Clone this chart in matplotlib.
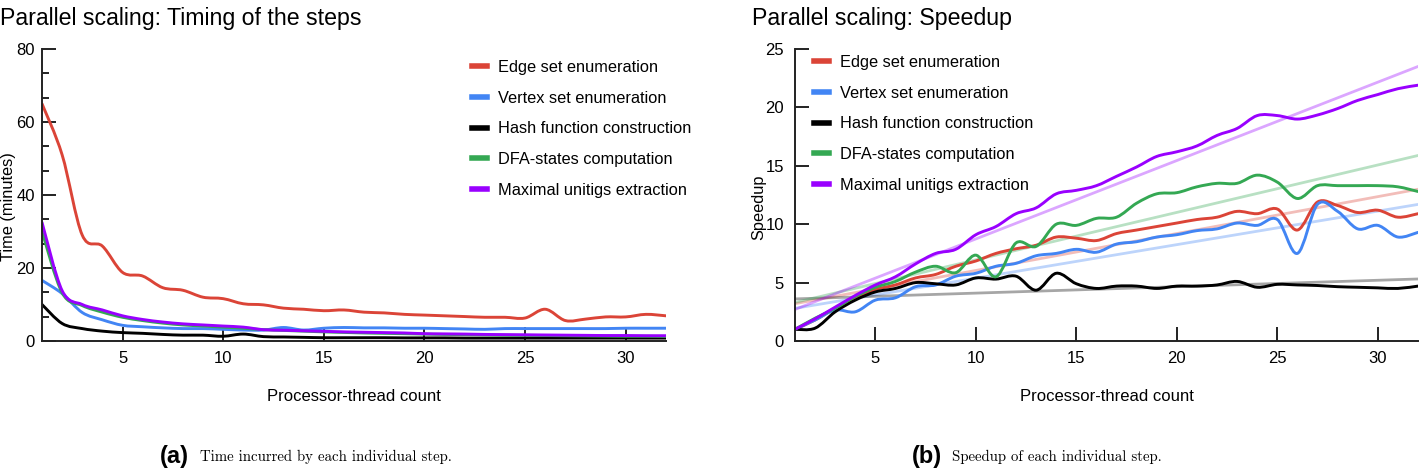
import numpy as np
import matplotlib
matplotlib.use("Agg")
import matplotlib.pyplot as plt
from matplotlib.lines import Line2D
from matplotlib.path import Path
from matplotlib.patches import PathPatch
from matplotlib.ticker import MultipleLocator

plt.rcParams['font.family'] = ['Liberation Sans', 'DejaVu Sans']

# ---------------- data ----------------
threads = np.arange(1, 33)
series_names = ["Edge set enumeration", "Vertex set enumeration", "Hash function construction",
                "DFA-states computation", "Maximal unitigs extraction"]
series_colors = ["#DB4437", "#4285F4", "#000000", "#34A853", "#9900FF"]

# Time in minutes (panel a)
edge_time = [65.0, 51.0, 29.0, 26.0, 18.8, 17.8, 14.6, 13.9, 12.0, 11.6, 10.2, 9.9, 9.0, 8.7, 8.3, 8.5,
             7.9, 7.7, 7.3, 7.1, 6.9, 6.7, 6.5, 6.5, 6.3, 8.7, 5.6, 6.0, 6.6, 6.6, 7.3, 6.9]
vertex_time = [16.6, 13.0, 7.8, 5.8, 4.3, 3.9, 3.6, 3.4, 3.4, 3.2, 3.0, 3.0, 3.7, 3.0, 3.5, 3.7,
               3.6, 3.6, 3.5, 3.5, 3.4, 3.3, 3.2, 3.4, 3.4, 3.4, 3.4, 3.4, 3.4, 3.5, 3.5, 3.5]
hash_time = [10.0, 4.8, 3.4, 2.7, 2.3, 2.1, 1.8, 1.6, 1.6, 1.3, 1.9, 1.2, 1.1, 1.0, 0.9, 0.9,
             0.9, 0.9, 0.85, 0.85, 0.85, 0.8, 0.8, 0.8, 0.8, 0.8, 0.8, 0.8, 0.8, 0.8, 0.8, 0.8]
dfa_time = [30.0, 13.2, 9.7, 7.9, 6.5, 5.6, 4.9, 4.4, 4.1, 3.8, 3.5, 3.1, 2.9, 2.7, 2.5, 2.35,
            2.2, 2.1, 2.0, 1.9, 1.8, 1.75, 1.7, 1.6, 1.55, 1.5, 1.45, 1.4, 1.35, 1.3, 1.3, 1.25]
unitig_time = [32.5, 13.8, 10.0, 8.5, 6.9, 5.9, 5.2, 4.7, 4.4, 4.1, 3.8, 3.1, 2.95, 2.8, 2.65, 2.5,
               2.4, 2.3, 2.2, 2.0, 1.95, 1.9, 1.8, 1.75, 1.7, 1.65, 1.6, 1.55, 1.5, 1.5, 1.45, 1.45]

# Speedup (panel b)
edge_sp = [1.0, 1.8, 2.8, 3.65, 4.4, 4.8, 5.4, 5.7, 6.4, 6.85, 7.5, 7.9, 8.2, 8.9, 8.8, 8.6,
           9.2, 9.5, 9.8, 10.1, 10.4, 10.6, 11.1, 10.9, 11.3, 9.5, 11.9, 11.6, 11.0, 11.2, 10.6, 10.9]
vertex_sp = [1.0, 1.8, 2.65, 2.5, 3.5, 3.7, 4.65, 4.8, 5.55, 5.8, 6.4, 6.65, 7.3, 7.5, 7.85, 7.6,
             8.3, 8.5, 8.9, 9.1, 9.45, 9.6, 10.1, 9.9, 10.4, 7.5, 11.7, 11.1, 9.6, 9.9, 8.9, 9.3]
hash_sp = [1.0, 1.1, 2.5, 3.5, 4.2, 4.5, 5.0, 4.9, 4.8, 5.4, 5.3, 5.55, 4.35, 5.8, 4.9, 4.5,
           4.7, 4.7, 4.5, 4.7, 4.7, 4.8, 5.1, 4.6, 4.85, 4.8, 4.75, 4.65, 4.6, 4.55, 4.5, 4.7]
dfa_sp = [1.0, 1.95, 2.8, 3.8, 4.6, 5.1, 5.9, 6.4, 5.85, 7.35, 5.5, 8.4, 8.1, 10.0, 9.9, 10.5,
          10.6, 11.8, 12.6, 12.7, 13.2, 13.5, 13.5, 14.2, 13.6, 12.2, 13.3, 13.3, 13.3, 13.3, 13.2, 12.8]
unitig_sp = [1.0, 1.9, 2.9, 3.9, 4.8, 5.5, 6.6, 7.5, 7.85, 9.1, 9.8, 10.9, 11.4, 12.6, 12.9, 13.3,
             14.1, 14.9, 15.8, 16.2, 16.7, 17.6, 18.2, 19.3, 19.3, 19.0, 19.35, 19.9, 20.6, 21.1, 21.6, 21.9]

# Linear trendlines of the speedup (slope, intercept)
trend_slope = [0.316, 0.287, 0.055, 0.406, 0.671]
trend_intercept = [2.88, 2.51, 3.55, 2.89, 2.03]

time_series = [edge_time, vertex_time, hash_time, dfa_time, unitig_time]
speed_series = [edge_sp, vertex_sp, hash_sp, dfa_sp, unitig_sp]

x_ticks = [5, 10, 15, 20, 25, 30]

# ---------------- helpers ----------------
def smooth_path(xs, ys):
    """Cubic Bezier path passing through every data point (Catmull-Rom style)."""
    P = np.column_stack([np.asarray(xs, float), np.asarray(ys, float)])
    n = len(P)
    verts = [P[0]]
    codes = [Path.MOVETO]
    for i in range(n - 1):
        p0 = P[i - 1] if i > 0 else P[i]
        p1 = P[i]
        p2 = P[i + 1]
        p3 = P[i + 2] if i + 2 < n else P[i + 1]
        c1 = p1 + (p2 - p0) / 6.0
        c2 = p2 - (p3 - p1) / 6.0
        verts += [c1, c2, p2]
        codes += [Path.CURVE4] * 3
    return Path(verts, codes)


def draw_smooth(ax, xs, ys, color, lw, zorder=2):
    patch = PathPatch(smooth_path(xs, ys), facecolor="none", edgecolor=color, lw=lw,
                      capstyle="round", joinstyle="round", zorder=zorder)
    ax.add_patch(patch)


# ---------------- figure ----------------
W, H = 1424, 468
fig = plt.figure(figsize=(W / 100, H / 100), dpi=100)

def fx(px):
    return px / W

def fy(py):
    return 1 - py / H

axL = fig.add_axes([fx(42), fy(341), fx(666) - fx(42), fy(49) - fy(341)])
axR = fig.add_axes([fx(795), fy(341), fx(1418) - fx(795), fy(49) - fy(341)])

LW = 2.1
for ax in (axL, axR):
    for s in ("top", "right"):
        ax.spines[s].set_visible(False)
    for s in ("left", "bottom"):
        ax.spines[s].set_linewidth(1.4)
        ax.spines[s].set_color("#222222")
    ax.set_xlim(1, 32)
    ax.set_xticks(x_ticks)
    ax.tick_params(axis="both", which="major", direction="in", length=10, width=1.4,
                   labelsize=12, colors="#222222", labelcolor="black")
    ax.tick_params(axis="x", pad=7)
    ax.set_xlabel("Processor-thread count", fontsize=12, labelpad=17)

# left panel
for vals, c in zip(time_series, series_colors):
    draw_smooth(axL, threads, vals, c, LW)
axL.set_ylim(0, 80)
axL.set_yticks([0, 20, 40, 60, 80])
axL.yaxis.set_minor_locator(MultipleLocator(20 / 3))
axL.tick_params(axis="y", which="minor", direction="in", length=5, width=1.4, colors="#222222")
axL.tick_params(axis="y", pad=5)
axL.set_ylabel("Time (minutes)", fontsize=11.8, va="center", ha="center")
axL.yaxis.set_label_coords(fx(9), fy(207), transform=fig.transFigure)

# right panel
for vals, c, m, b in zip(speed_series, series_colors, trend_slope, trend_intercept):
    axR.plot(threads, b + m * threads, color=c, lw=2.0, alpha=0.35, zorder=1)
for vals, c in zip(speed_series, series_colors):
    draw_smooth(axR, threads, vals, c, LW)
axR.set_ylim(0, 25)
axR.set_yticks([0, 5, 10, 15, 20, 25])
axR.tick_params(axis="y", pad=8)
axR.set_ylabel("Speedup", fontsize=11.8, va="center", ha="center")
axR.yaxis.set_label_coords(fx(759), fy(207), transform=fig.transFigure)

# legends
handles = [Line2D([0], [0], color=c, lw=4) for c in series_colors]
for ax, (lx, ly) in ((axL, (472, 60)), (axR, (814, 55))):
    ax.legend(handles, series_names, loc="upper left", bbox_to_anchor=(fx(lx), fy(ly)),
              bbox_transform=fig.transFigure, frameon=False, fontsize=11.8,
              handlelength=0.9, handletextpad=0.7, labelspacing=0.96, borderpad=0,
              borderaxespad=0)

# titles
fig.text(fx(0), fy(18), "Parallel scaling: Timing of the steps", fontsize=16.7,
         ha="left", va="center")
fig.text(fx(752), fy(18), "Parallel scaling: Speedup", fontsize=16.7,
         ha="left", va="center")

# captions
fig.text(fx(160), fy(456), "(a)", fontsize=17, fontweight="bold", ha="left", va="center")
fig.text(fx(200), fy(457), "Time incurred by each individual step.", fontsize=10.7,
         family="cmr10", ha="left", va="center")
fig.text(fx(912), fy(456), "(b)", fontsize=17, fontweight="bold", ha="left", va="center")
fig.text(fx(952), fy(457), "Speedup of each individual step.", fontsize=10.7,
         family="cmr10", ha="left", va="center")

fig.savefig("out.png", dpi=100)
